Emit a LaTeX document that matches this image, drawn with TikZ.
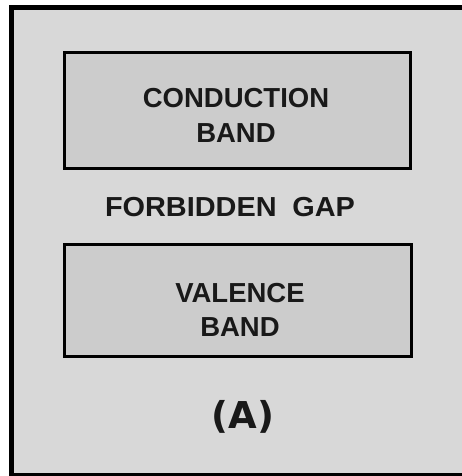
\documentclass[tikz,border=0pt]{standalone}
\usepackage{fontspec}
\setmainfont{Liberation Sans}
\newfontfamily\tagfont{DejaVu Sans}
\usepackage{xcolor}
\usepackage{tikz}
\usetikzlibrary{positioning}

\definecolor{panelgray}{RGB}{216,216,216}
\definecolor{bandgray}{RGB}{204,204,204}

\begin{document}
\begin{tikzpicture}[x=1pt, y=-1pt, every node/.style={align=center}]
\tikzset{
  band/.style={draw=black, line width=3pt, fill=bandgray, inner sep=0pt},
  bandtext/.style={font=\fontsize{27.5}{34.5}\selectfont\bfseries, text=black!90},
  tagtext/.style={font=\fontsize{37}{44}\selectfont\tagfont\bfseries, text=black!90}
}
\useasboundingbox (0,0) rectangle (462,476);
\clip (0,0) rectangle (462,476);
% panel
\draw[line width=5pt, fill=panelgray] (11.5,7.5) rectangle (475,475.5);
% bands
\node[band, minimum width=346pt, minimum height=116pt] (conduction) at (237.5,110.5) {};
\node[bandtext] (conductiontext) at (236,115.5) {CONDUCTION\\BAND};
\node[bandtext, xscale=1.05, transform shape] (gap) at (230,207) {FORBIDDEN\hspace{15pt}GAP};
\node[band, minimum width=347pt, minimum height=112pt] (valence) at (238,300.5) {};
\node[bandtext] (valencetext) at (240,310) {VALENCE\\BAND};
\node[tagtext] (tag) at (243,416.5) {(A)};
\end{tikzpicture}
\end{document}
